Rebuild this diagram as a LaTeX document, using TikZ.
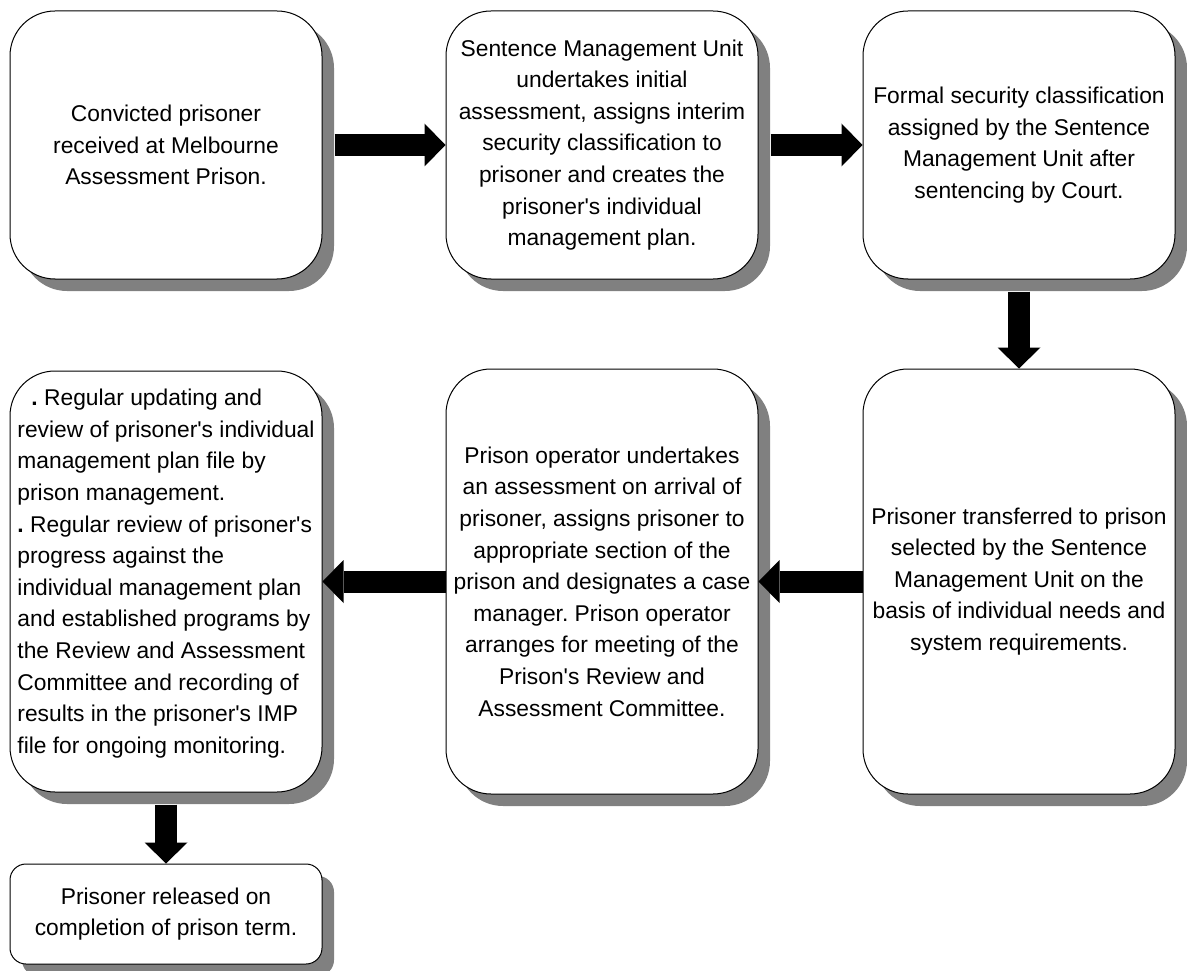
\documentclass[tikz,border=0pt]{standalone}
\usepackage{fontspec}
\setmainfont{Liberation Sans}[Ligatures=TeXOff]
\frenchspacing
\usetikzlibrary{arrows.meta,shadows}
\definecolor{shadowgray}{RGB}{128,128,128}
\tikzset{
  box/.style={draw=black, line width=1pt, fill=white, rounded corners=45pt,
    minimum width=312pt, align=center, inner sep=0pt,
    font=\fontsize{22.8}{31.6}\selectfont\frenchspacing,
    general shadow={shadow xshift=12pt, shadow yshift=-12pt, fill=shadowgray}},
  rowone/.style={minimum height=268pt},
  rowtwo/.style={minimum height=425pt},
  blockarrow/.style={black, line width=22pt,
    -{Triangle[length=21pt, width=43pt, line width=0pt]}}
}
\begin{document}
\begin{tikzpicture}[x=1pt,y=-1pt]
\path[fill=white] (0,0) rectangle (1187,971);
\useasboundingbox (0,0) rectangle (1187,971);

\node[box,rowone] (b1) at (166,145) {Convicted prisoner\\received at Melbourne\\Assessment Prison.};
\node[box,rowone] (b2) at (602,145) {Sentence Management Unit\\undertakes initial\\assessment, assigns interim\\security classification to\\prisoner and creates the\\prisoner's individual\\management plan.};
\node[box,rowone] (b3) at (1019,145) {Formal security classification\\assigned by the Sentence\\Management Unit after\\sentencing by Court.};

\node[box,rowtwo] (b4) at (1019,581.5) {Prisoner transferred to prison\\selected by the Sentence\\Management Unit on the\\basis of individual needs and\\system requirements.};
\node[box,rowtwo] (b5) at (602,581.5) {Prison operator undertakes\\an assessment on arrival of\\prisoner, assigns prisoner to\\appropriate section of the\\prison and designates a case\\manager. Prison operator\\arranges for meeting of the\\Prison's Review and\\Assessment Committee.};
\node[box,minimum height=421pt,align=left] (b6) at (166,581.5) {\hspace*{14pt}\textbf{.} Regular updating and\\review of prisoner's individual\\management plan file by\\prison management.\\\textbf{.} Regular review of prisoner's\\progress against the\\individual management plan\\and established programs by\\the Review and Assessment\\Committee and recording of\\results in the prisoner's IMP\\file for ongoing monitoring.\\[-11pt]\mbox{}};

\node[box,minimum height=100pt,rounded corners=16pt] (b7) at (166,914) {Prisoner released on\\completion of prison term.};

\draw[blockarrow] ([xshift=12pt]b1.east) -- (b2.west);
\draw[blockarrow] ([xshift=12pt]b2.east) -- (b3.west);
\draw[blockarrow] ([yshift=-12pt]b3.south) -- (b4.north);
\draw[blockarrow] (b4.west) -- (b5.east);
\draw[blockarrow] (b5.west) -- (b6.east);
\draw[blockarrow] ([yshift=-12pt]b6.south) -- (b7.north);
\end{tikzpicture}
\end{document}
